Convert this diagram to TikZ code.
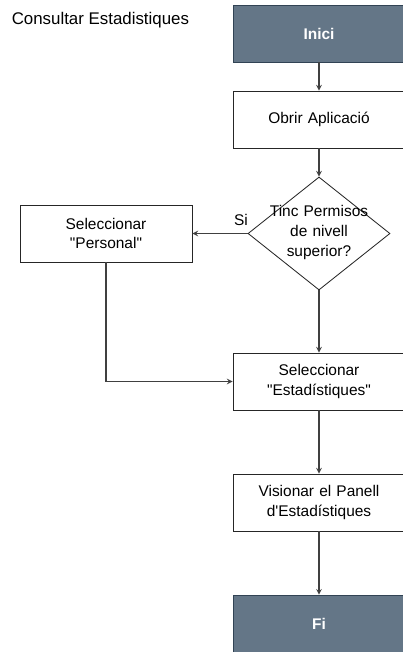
\documentclass[tikz,border=0pt]{standalone}
\usepackage{fontspec}
\newfontfamily\chartfont{Liberation Sans}
\usetikzlibrary{shapes.geometric,positioning}

\definecolor{slate}{HTML}{647687}
\definecolor{slateline}{HTML}{314354}

\tikzstyle{arrow} = [thick,->,>=stealth,draw=black!75]
\tikzstyle{terminal} = [
        rectangle,
        minimum width=4.3cm,
        minimum height=1.425cm,
        text width=4cm,
        text centered,
        draw=slateline,
        fill=slate,
        text=white,
        font=\chartfont\fontsize{11}{14}\selectfont\bfseries
    ]
\tikzstyle{process} = [
        rectangle,
        minimum width=4.3cm,
        minimum height=1.425cm,
        text width=4cm,
        text centered,
        draw=black!85,
        semithick
    ]
\tikzstyle{decision} = [
        diamond,
        minimum width=3.55cm,
        minimum height=2.825cm,
        inner sep=0pt,
        draw=black!85,
        semithick
    ]

\begin{document}
\begin{tikzpicture}[node distance=3.025cm, font=\chartfont\fontsize{11}{14}\selectfont]

        \clip (0,0) rectangle (10.075,-16.3);

        \node [anchor=west, font=\chartfont\fontsize{12}{14}\selectfont] (title) at (0.17,-0.5) {Consultar Estadistiques};

        \node [terminal] (inici) at (7.975,-0.8375) {Inici};
        \node [process, below of=inici, yshift=0.875cm] (obrir) {Obrir Aplicació};
        \node [decision, below of=obrir, yshift=0.175cm] (permisos) {};
        \node [text width=3.2cm, text centered, yshift=0.025cm] (permtext) at (permisos) {Tinc Permisos\\de nivell\\superior?};
        \node [process, left of=permisos, xshift=-2.3cm] (personal) {Seleccionar\\"Personal"};
        \node [process, below of=permisos, yshift=-0.675cm] (estad) {Seleccionar\\"Estadístiques"};
        \node [process, below of=estad] (panell) {Visionar el Panell\\d'Estadístiques};
        \node [terminal, below of=panell] (fi) {Fi};

        \draw [arrow] (inici) -- (obrir);
        \draw [arrow] (obrir) -- (permisos);
        \draw [arrow] (permisos.west) -- node [pos=0.12, above, yshift=2pt] (si) {Si} (personal.east);
        \draw [arrow] (permisos.south) -- (estad);
        \draw [arrow] (personal.south) |- (estad.west);
        \draw [arrow] (estad) -- (panell);
        \draw [arrow] (panell) -- (fi);

    \end{tikzpicture}
\end{document}
